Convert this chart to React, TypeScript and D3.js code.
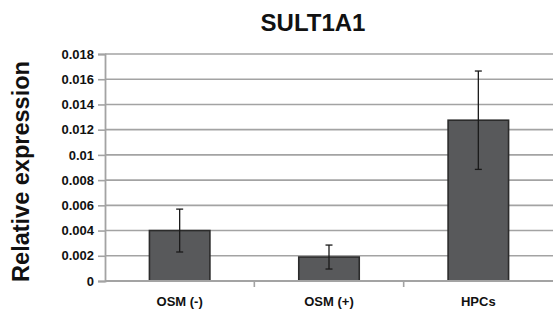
import React, { useEffect, useRef } from 'react';
import * as d3 from 'd3';

const categories = ['OSM (-)', 'OSM (+)', 'HPCs'];
const values = [0.004, 0.0019, 0.01275];
const errors = [0.0017, 0.00095, 0.0039];
const yTicks = [0, 0.002, 0.004, 0.006, 0.008, 0.01, 0.012, 0.014, 0.016, 0.018];

function App() {
  const ref = useRef<SVGSVGElement | null>(null);

  useEffect(() => {
    if (!ref.current) return;
    const width = 553;
    const height = 313;
    const marginTop = 54;
    const marginRight = 0;
    const marginBottom = 32;
    const marginLeft = 105;
    const font = 'Liberation Sans, Arial, sans-serif';

    const svg = d3.select(ref.current);
    svg.selectAll('*').remove();

    const x = d3
      .scaleBand()
      .domain(categories)
      .range([marginLeft, width - marginRight])
      .padding(0);

    const y = d3
      .scaleLinear()
      .domain([0, 0.018])
      .range([height - marginBottom, marginTop]);

    // gridlines
    svg
      .append('g')
      .attr('class', 'grid')
      .selectAll('line')
      .data(yTicks.slice(1))
      .join('line')
      .attr('x1', marginLeft)
      .attr('x2', width - marginRight)
      .attr('y1', (d) => y(d))
      .attr('y2', (d) => y(d))
      .attr('stroke', '#a3a3a3')
      .attr('stroke-width', 1.6);

    // y axis
    const yAxis = svg
      .append('g')
      .attr('class', 'y-axis')
      .attr('transform', `translate(${marginLeft},0)`)
      .call(
        d3
          .axisLeft(y)
          .tickValues(yTicks)
          .tickSize(7)
          .tickPadding(4)
          .tickFormat((d) => (d === 0 ? '0' : d3.format('~g')(d as number)))
      );
    yAxis.select('.domain').attr('stroke', '#a3a3a3').attr('stroke-width', 1.8);
    yAxis.selectAll('.tick line').attr('stroke', '#a3a3a3').attr('stroke-width', 1.6);
    yAxis
      .selectAll('.tick text')
      .attr('fill', '#111')
      .attr('font-family', font)
      .attr('font-weight', 'bold')
      .attr('font-size', 13);

    // bars
    const barW = x.bandwidth() * 0.405;
    svg
      .append('g')
      .attr('class', 'bars')
      .selectAll('rect')
      .data(values)
      .join('rect')
      .attr('x', (d, i) => x(categories[i])! + x.bandwidth() / 2 - barW / 2)
      .attr('y', (d) => y(d))
      .attr('width', barW)
      .attr('height', (d) => y(0) - y(d))
      .attr('fill', '#58595b')
      .attr('stroke', '#2b2b2b')
      .attr('stroke-width', 1.6);

    // x axis
    const xAxis = svg
      .append('g')
      .attr('class', 'x-axis')
      .attr('transform', `translate(0,${y(0)})`);
    xAxis
      .append('line')
      .attr('x1', marginLeft)
      .attr('x2', width - marginRight)
      .attr('stroke', '#a3a3a3')
      .attr('stroke-width', 1.8);
    xAxis
      .selectAll('line.tk')
      .data(categories.slice(1))
      .join('line')
      .attr('class', 'tk')
      .attr('x1', (d) => x(d)!)
      .attr('x2', (d) => x(d)!)
      .attr('y1', 0)
      .attr('y2', 6)
      .attr('stroke', '#a3a3a3')
      .attr('stroke-width', 1.6);
    xAxis
      .selectAll('text')
      .data(categories)
      .join('text')
      .attr('x', (d) => x(d)! + x.bandwidth() / 2)
      .attr('y', 25)
      .attr('text-anchor', 'middle')
      .attr('font-family', font)
      .attr('font-weight', 'bold')
      .attr('font-size', 13)
      .attr('fill', '#111')
      .text((d) => d);

    // error bars
    const eb = svg.append('g').attr('class', 'errors').attr('stroke', '#1a1a1a').attr('stroke-width', 1.3);
    values.forEach((v, i) => {
      const cx = x(categories[i])! + x.bandwidth() / 2;
      const top = y(v + errors[i]);
      const bot = y(v - errors[i]);
      eb.append('line').attr('x1', cx).attr('x2', cx).attr('y1', top).attr('y2', bot);
      eb.append('line').attr('x1', cx - 3.5).attr('x2', cx + 3.5).attr('y1', top).attr('y2', top);
      eb.append('line').attr('x1', cx - 3.5).attr('x2', cx + 3.5).attr('y1', bot).attr('y2', bot);
    });

    // title
    svg
      .append('text')
      .attr('x', 313)
      .attr('y', 31)
      .attr('text-anchor', 'middle')
      .attr('font-family', font)
      .attr('font-weight', 'bold')
      .attr('font-size', 24)
      .attr('fill', '#111')
      .text('SULT1A1');

    // y label
    svg
      .append('text')
      .attr('transform', `translate(29,${(marginTop + y(0)) / 2 + 4}) rotate(-90)`)
      .attr('text-anchor', 'middle')
      .attr('font-family', font)
      .attr('font-weight', 'bold')
      .attr('font-size', 23.5)
      .attr('fill', '#111')
      .text('Relative expression');
  }, []);

  return (
    <svg
      ref={ref}
      width={553}
      height={313}
      style={{ position: 'absolute', left: 0, top: 0, background: '#fff' }}
    />
  );
}

export default App;
